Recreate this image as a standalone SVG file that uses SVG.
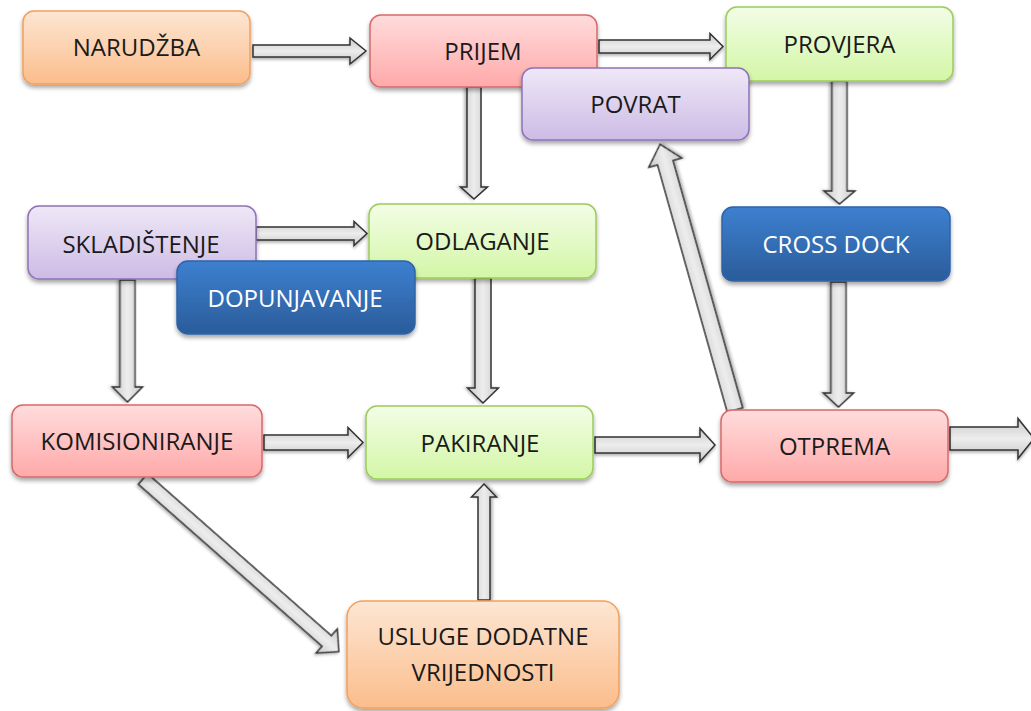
<svg xmlns="http://www.w3.org/2000/svg" width="1031" height="711" viewBox="0 0 1031 711">
<style>
text{font-family:"Open Sans","Liberation Sans",sans-serif;font-size:24px;text-anchor:middle;fill:#1a1a1a}
.wt{fill:#ffffff}
.box{stroke-width:1.5;filter:url(#sh)}
.or{fill:url(#gOr);stroke:#F4A05A}
.rd{fill:url(#gRd);stroke:#D8696B}
.gr{fill:url(#gGr);stroke:#9CCB5C}
.pu{fill:url(#gPu);stroke:#8E73B7}
.bl{fill:url(#gBl);stroke:#2F64A8}
.arr{fill:url(#gAr);stroke:#333333;stroke-width:1.5;stroke-linejoin:miter;filter:url(#sha)}
</style>
<defs>
<filter id="sh" x="-10%" y="-20%" width="120%" height="150%"><feDropShadow dx="0" dy="3" stdDeviation="2.2" flood-color="#000" flood-opacity="0.35"/></filter>
<filter id="sha" x="-10%" y="-50%" width="120%" height="200%"><feDropShadow dx="0" dy="2" stdDeviation="1.5" flood-color="#000" flood-opacity="0.3"/></filter>
<linearGradient id="gOr" x1="0" y1="0" x2="0" y2="1"><stop offset="0" stop-color="#FDE6D3"/><stop offset="1" stop-color="#FBBD8C"/></linearGradient>
<linearGradient id="gRd" x1="0" y1="0" x2="0" y2="1"><stop offset="0" stop-color="#FFDCDC"/><stop offset="1" stop-color="#FFA9A9"/></linearGradient>
<linearGradient id="gGr" x1="0" y1="0" x2="0" y2="1"><stop offset="0" stop-color="#F3FDE6"/><stop offset="1" stop-color="#D3F6A6"/></linearGradient>
<linearGradient id="gPu" x1="0" y1="0" x2="0" y2="1"><stop offset="0" stop-color="#EEE8F7"/><stop offset="1" stop-color="#CDBBE5"/></linearGradient>
<linearGradient id="gBl" x1="0" y1="0" x2="0" y2="1"><stop offset="0" stop-color="#3D80D0"/><stop offset="1" stop-color="#2A5C9A"/></linearGradient>
<linearGradient id="gAr" x1="0" y1="0" x2="0" y2="1"><stop offset="0" stop-color="#C9C9C9"/><stop offset="0.5" stop-color="#EDEDED"/><stop offset="1" stop-color="#C9C9C9"/></linearGradient>
</defs>
<rect width="1031" height="711" fill="#ffffff"/>
<g id="connectors">
<path class="arr" transform="translate(253,51)" d="M0,-6 H97 V-13 L113,0 L97,13 V6 H0 Z"/>
<path class="arr" transform="translate(599,46.5)" d="M0,-6.5 H111 V-13 L124,0 L111,13 V6.5 H0 Z"/>
<path class="arr" transform="translate(474,87) rotate(90)" d="M0,-7 H100 V-13.5 L112,0 L100,13.5 V7 H0 Z"/>
<path class="arr" transform="translate(839.5,81) rotate(90)" d="M0,-7.5 H110 V-15.5 L123,0 L110,15.5 V7.5 H0 Z"/>
<path class="arr" transform="translate(838.5,282) rotate(90)" d="M0,-7.5 H111 V-15 L125,0 L111,15 V7.5 H0 Z"/>
<path class="arr" transform="translate(256,233.5)" d="M0,-6.5 H98 V-12 L111,0 L98,12 V6.5 H0 Z"/>
<path class="arr" transform="translate(127.5,280) rotate(90)" d="M0,-7.5 H107 V-15 L122,0 L107,15 V7.5 H0 Z"/>
<path class="arr" transform="translate(483,278) rotate(90)" d="M0,-8 H110 V-15.5 L125,0 L110,15.5 V8 H0 Z"/>
<path class="arr" transform="translate(264,442.5)" d="M0,-7.5 H84 V-15 L99,0 L84,15 V7.5 H0 Z"/>
<path class="arr" transform="translate(595,445)" d="M0,-8 H105 V-16.5 L120,0 L105,16.5 V8 H0 Z"/>
<path class="arr" transform="translate(950,438.5)" d="M0,-11.5 H68 V-20 L84,0 L68,20 V11.5 H0 Z"/>
<path class="arr" transform="translate(484,600) rotate(-90)" d="M0,-6 H103 V-12.5 L116,0 L103,12.5 V6 H0 Z"/>
<path class="arr" transform="translate(143,479) rotate(41.4)" d="M0,-7 H245 V-16 L261,0 L245,16 V7 H0 Z"/>
<path class="arr" transform="translate(735,410) rotate(-105.75)" d="M0,-8 H257 V-17 L276,0 L257,17 V8 H0 Z"/>
</g>
<g id="narudzba"><rect class="box or" x="23" y="11" width="227" height="73" rx="11"/><text x="136.5" y="56">NARUDŽBA</text></g>
<g id="prijem"><rect class="box rd" x="370" y="15" width="227" height="72" rx="11"/><text x="483" y="60">PRIJEM</text></g>
<g id="provjera"><rect class="box gr" x="726" y="7" width="227" height="74" rx="11"/><text x="839.5" y="52.5">PROVJERA</text></g>
<g id="povrat"><rect class="box pu" x="522" y="68" width="227" height="72" rx="11"/><text x="635.5" y="112.5">POVRAT</text></g>
<g id="crossdock"><rect class="box bl" x="722" y="207" width="228" height="74" rx="11"/><text class="wt" x="836" y="253">CROSS DOCK</text></g>
<g id="odlaganje"><rect class="box gr" x="369" y="204" width="227" height="74" rx="11"/><text x="482.5" y="250">ODLAGANJE</text></g>
<g id="skladistenje"><rect class="box pu" x="28" y="206" width="228" height="73" rx="11"/><text x="141" y="252.5">SKLADIŠTENJE</text></g>
<g id="dopunjavanje"><rect class="box bl" x="177" y="261" width="238" height="73" rx="11"/><text class="wt" x="295" y="307">DOPUNJAVANJE</text></g>
<g id="komisioniranje"><rect class="box rd" x="12" y="405" width="250" height="72" rx="11"/><text x="137" y="450">KOMISIONIRANJE</text></g>
<g id="pakiranje"><rect class="box gr" x="366" y="406" width="227" height="73" rx="11"/><text x="480" y="452">PAKIRANJE</text></g>
<g id="otprema"><rect class="box rd" x="721" y="410" width="227" height="72" rx="11"/><text x="834.5" y="454.5">OTPREMA</text></g>
<g id="usluge"><rect class="box or" x="347" y="601" width="272" height="107" rx="16"/><text x="483" y="645">USLUGE DODATNE</text><text x="483" y="681">VRIJEDNOSTI</text></g>
</svg>
